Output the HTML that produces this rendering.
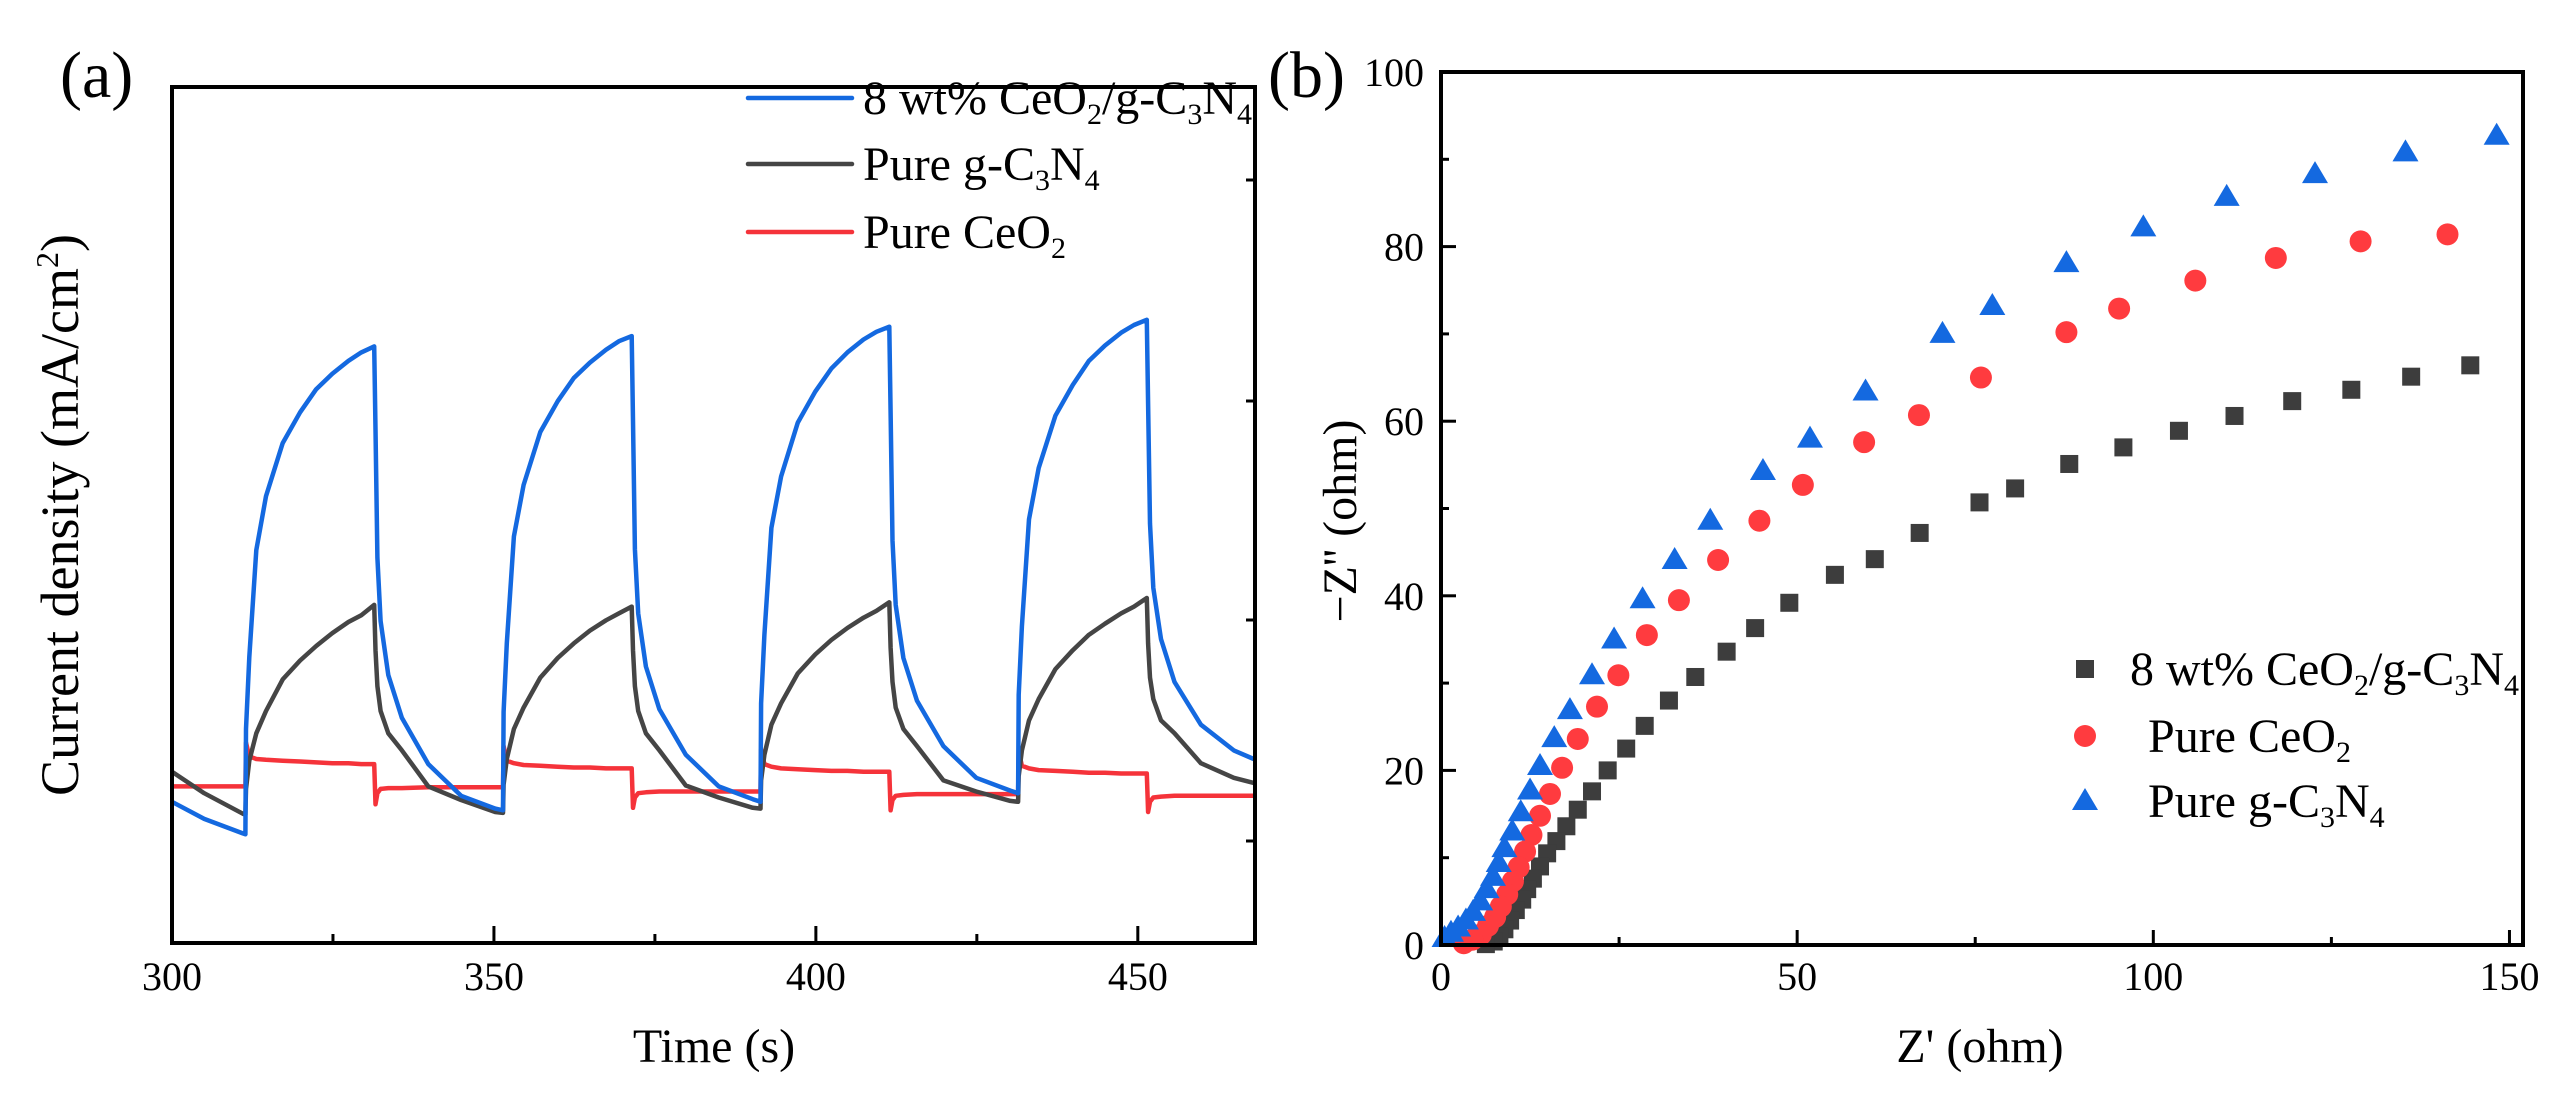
<!DOCTYPE html>
<html><head><meta charset="utf-8"><style>
html,body{margin:0;padding:0;background:#fff;}
svg{display:block;font-family:"Liberation Serif",serif;}
</style></head><body>
<svg id="fig" width="2555" height="1096" viewBox="0 0 2555 1096" xmlns="http://www.w3.org/2000/svg">
<rect width="2555" height="1096" fill="#fff"/>
<g id="pa"></g>
<g id="pb"></g>
</svg>
<script>
// ---------- Panel (a) data ----------
const timeS = [300,305,311,
 311.4,311.5,312,313.1,314.6,317.2,319.9,322.4,324.9,327.4,329.4,331.4, 331.6,331.9,332.4,333.6,335.7,339.8,344.9,350.2,
 351.4,351.5,352,353.1,354.6,357.2,359.9,362.4,364.9,367.4,369.4,371.4, 371.6,371.9,372.4,373.6,375.7,379.8,384.9,390.2,
 391.4,391.5,392,393.1,394.6,397.2,399.9,402.4,404.9,407.4,409.4,411.4, 411.6,411.9,412.4,413.6,415.7,419.8,424.9,430.2,
 431.4,431.5,432,433.1,434.6,437.2,439.9,442.4,444.9,447.4,449.4,451.4, 451.6,451.9,452.4,453.6,455.7,459.8,464.9,468];
const blueCurrent = [16.5,14.5,12.8,
 12.7,25,33.4,45.9,52.2,58.4,62,64.7,66.5,68,69,69.7, 60,45,37.6,31.3,26.3,20.9,17.2,15.7,
 15.5,27,35,47.5,53.5,59.7,63.3,66,67.8,69.3,70.3,70.9, 61,46,38.5,32.3,27.3,22,18.3,16.8,
 16.5,28,36,48.5,54.5,60.8,64.4,67.1,69,70.5,71.4,72, 62,47,39.5,33.3,28.3,23,19.3,17.8,
 17.5,29,37,49.5,55.5,61.6,65.2,68,69.8,71.3,72.2,72.8, 63,49,41.5,35.5,30.5,25.5,22.5,21.5];
const blackCurrent = [20,17.5,15.1,
 15,18,21.3,24.5,27.1,30.8,33,34.7,36.2,37.5,38.3,39.5, 34.2,30,27.1,24.5,22.5,18.3,16.7,15.3,
 15.2,18.5,21.5,25,27.5,31,33.3,35,36.5,37.7,38.5,39.3, 34.2,30,27.1,24.5,22.5,18.4,17,15.8,
 15.7,19,22,25.5,28,31.5,33.7,35.4,36.8,38,38.8,39.8, 34.5,30.5,27.5,25,23,19,17.7,16.6,
 16.5,19.5,22.5,26,28.5,32,34.2,36,37.3,38.5,39.3,40.3, 35,31,28.5,26,24.5,21,19.3,18.7];
const redCurrent = [18.3,18.3,18.3,
 18.3,23.4,21.8,21.5,21.4,21.3,21.2,21.1,21,21,20.9,20.9, 16.2,17.5,18,18.1,18.1,18.2,18.2,18.2,
 18.2,23,21.3,21,20.8,20.7,20.6,20.5,20.5,20.4,20.4,20.4, 15.8,17,17.5,17.6,17.7,17.7,17.7,17.7,
 17.7,22.6,20.9,20.6,20.4,20.3,20.2,20.1,20.1,20,20,20, 15.5,16.7,17.2,17.3,17.4,17.4,17.4,17.4,
 17.4,22.4,20.7,20.4,20.2,20.1,20,19.9,19.9,19.8,19.8,19.8, 15.3,16.5,17,17.1,17.2,17.2,17.2,17.2];
const xTicksA = [300,350,400,450];
const xMinorA = [325,375,425];

// ---------- Panel (b) data ----------
const zReC = [144.5,136.2,127.8,119.5,111.4,103.6,95.8,88.2,80.6,75.6,67.2,60.9,55.3,48.9,44.1,40.1,35.7,32,28.6,26,23.4,21.2,19.2,17.6,16.2,14.9,13.9,12.9,12.1,11.4,10.5,9.7,8.9,8.2,7.4,6.3];
const zImC = [66.4,65.1,63.6,62.3,60.6,58.9,57,55.1,52.3,50.7,47.2,44.2,42.4,39.2,36.3,33.6,30.7,28,25.1,22.5,20,17.6,15.5,13.6,11.9,10.5,9,7.6,6.4,5.2,4,2.8,1.8,1,0.4,0.1];
const zReCeO2 = [141.3,129.1,117.2,105.9,95.2,87.8,75.8,67.1,59.4,50.8,44.7,38.9,33.4,28.9,24.9,21.9,19.2,17,15.3,13.9,12.7,11.8,10.9,10.1,9.3,8.4,7.6,6.6,5.6,4.4,3.2];
const zImCeO2 = [81.4,80.6,78.7,76.1,72.9,70.2,65,60.7,57.6,52.7,48.6,44.1,39.5,35.5,30.9,27.3,23.6,20.3,17.3,14.8,12.6,10.7,8.9,7.3,5.8,4.4,3.2,2.2,1.2,0.6,0.2];
const zReCN = [148.2,135.4,122.7,110.3,98.6,87.8,77.4,70.4,59.6,51.8,45.2,37.8,32.8,28.3,24.3,21.2,18.1,15.9,13.9,12.5,11.2,10,8.9,8.1,7.3,6.4,5.5,4.5,3.5,2.4,1.4,0.5];
const zImCN = [92.7,90.8,88.3,85.7,82.2,78.1,73.2,70,63.4,58,54.3,48.6,44.1,39.6,35,30.9,26.9,23.7,20.5,17.7,15.2,13,11.1,9.4,7.8,6.4,5,3.8,2.8,2,1.4,0.8];
const xTicksB = [0,50,100,150];
const xMinorB = [25,75,125];
const yTicksB = [0,20,40,60,80,100];
const yMinorB = [10,30,50,70,90];

const NS = "http://www.w3.org/2000/svg";
function mk(parent, tag, attrs){ const e=document.createElementNS(NS,tag); for(const k in attrs) e.setAttribute(k,attrs[k]); parent.appendChild(e); return e; }

// ---------- Panel (a) ----------
const pa = document.getElementById('pa');
const A = {l:172, r:1255, t:87, b:943, x0:300, x1:468.2};
const xa = v => A.l + (v-A.x0)/(A.x1-A.x0)*(A.r-A.l);
const ya = v => A.b - v/100*(A.b-A.t);

function drawLine(vals, color, name){
  let d = vals.map((v,i)=>(i?'L':'M')+xa(timeS[i]).toFixed(1)+' '+ya(v).toFixed(1)).join(' ');
  const p = mk(pa,'path',{d:d,fill:'none',stroke:color,'stroke-width':4.5,'stroke-linejoin':'round'});
  
  
}
drawLine(redCurrent,'#f5333a','line-pure-ceo2');
drawLine(blackCurrent,'#454545','line-pure-gc3n4');
drawLine(blueCurrent,'#1469e0','line-8wt-ceo2-gc3n4');

const frameA = mk(pa,'rect',{x:A.l,y:A.t,width:A.r-A.l,height:A.b-A.t,fill:'none',stroke:'#000','stroke-width':4});


xTicksA.forEach(v=>{
  mk(pa,'line',{x1:xa(v),x2:xa(v),y1:A.b,y2:A.b-17,stroke:'#000','stroke-width':3});
  const t = mk(pa,'text',{x:xa(v),y:990,'font-size':40,'text-anchor':'middle'}); t.textContent=v;
  
  
});
xMinorA.forEach(v=>mk(pa,'line',{x1:xa(v),x2:xa(v),y1:A.b,y2:A.b-9,stroke:'#000','stroke-width':3}));
[180,401,620,841].forEach(y=>mk(pa,'line',{x1:A.r,x2:A.r-9,y1:y,y2:y,stroke:'#000','stroke-width':3}));

function addText(parent,html,attrs,name){
  const t = mk(parent,'text',attrs); t.innerHTML = html;
  
  
  return t;
}
addText(pa,'(a)',{x:60,y:97,'font-size':66},'panel-label-a');
addText(pa,'Time (s)',{x:714,y:1062,'font-size':48,'text-anchor':'middle'},'x-axis-title-a');
addText(pa,'Current density (mA/cm<tspan font-size="32" dy="-20">2</tspan><tspan dy="20">)</tspan>',{x:0,y:0,'font-size':54,'text-anchor':'middle',transform:'translate(78,515) rotate(-90)'},'y-axis-title-a');

const legA = [['#1469e0','8 wt% CeO<tspan font-size="30" dy="10">2</tspan><tspan dy="-10">/g-C</tspan><tspan font-size="30" dy="10">3</tspan><tspan dy="-10">N</tspan><tspan font-size="30" dy="10">4</tspan>',98,'legend-entry-composite'],
 ['#454545','Pure g-C<tspan font-size="30" dy="10">3</tspan><tspan dy="-10">N</tspan><tspan font-size="30" dy="10">4</tspan>',164,'legend-entry-gc3n4'],
 ['#f5333a','Pure CeO<tspan font-size="30" dy="10">2</tspan>',232,'legend-entry-ceo2']];
legA.forEach(e=>{
  const g = mk(pa,'g',{});
  
  
  mk(g,'line',{x1:748,x2:852,y1:e[2],y2:e[2],stroke:e[0],'stroke-width':4.5,'stroke-linecap':'round'});
  const t = mk(g,'text',{x:863,y:e[2]+16,'font-size':48}); t.innerHTML=e[1];
});

// ---------- Panel (b) ----------
const pb = document.getElementById('pb');
const B = {l:1441, r:2523, t:72, b:945, x0:0, x1:151.9, y0:0, y1:100};
const xb = v => B.l + (v-B.x0)/(B.x1-B.x0)*(B.r-B.l);
const yb = v => B.b - (v-B.y0)/(B.y1-B.y0)*(B.b-B.t);

function marker(g,type,cx,cy,color){
  if(type==='sq') mk(g,'rect',{x:cx-9,y:cy-9,width:18,height:18,fill:color});
  else if(type==='ci') mk(g,'circle',{cx:cx,cy:cy,r:11,fill:color});
  else mk(g,'polygon',{points:`${cx},${cy-13} ${cx-13},${cy+9} ${cx+13},${cy+9}`,fill:color});
}
function drawScatter(xs,ys,type,color,name){
  const g = mk(pb,'g',{});
  
  
  xs.forEach((x,i)=>marker(g,type,xb(x),yb(ys[i]),color));
}
drawScatter(zReC,zImC,'sq','#3d3d3d','series-8wt-ceo2-gc3n4');
drawScatter(zReCeO2,zImCeO2,'ci','#ff3b3f','series-pure-ceo2');
drawScatter(zReCN,zImCN,'tr','#1469e0','series-pure-gc3n4');

const frameB = mk(pb,'rect',{x:B.l,y:B.t,width:B.r-B.l,height:B.b-B.t,fill:'none',stroke:'#000','stroke-width':4});


xTicksB.forEach(v=>{
  mk(pb,'line',{x1:xb(v),x2:xb(v),y1:B.b,y2:B.b-15,stroke:'#000','stroke-width':3});
  const t = mk(pb,'text',{x:xb(v),y:990,'font-size':40,'text-anchor':'middle'}); t.textContent=v;
  
  
});
xMinorB.forEach(v=>mk(pb,'line',{x1:xb(v),x2:xb(v),y1:B.b,y2:B.b-8,stroke:'#000','stroke-width':3}));
yTicksB.forEach(v=>{
  mk(pb,'line',{x1:B.l,x2:B.l+15,y1:yb(v),y2:yb(v),stroke:'#000','stroke-width':3});
  const t = mk(pb,'text',{x:1424,y:yb(v)+14,'font-size':40,'text-anchor':'end'}); t.textContent=v;
  
  
});
yMinorB.forEach(v=>mk(pb,'line',{x1:B.l,x2:B.l+8,y1:yb(v),y2:yb(v),stroke:'#000','stroke-width':3}));

addText(pb,'(b)',{x:1268,y:97,'font-size':66},'panel-label-b');
addText(pb,"Z' (ohm)",{x:1980,y:1062,'font-size':48,'text-anchor':'middle'},'x-axis-title-b');
addText(pb,"\u2212Z'' (ohm)",{x:0,y:0,'font-size':48,'text-anchor':'middle',transform:'translate(1356,521) rotate(-90)'},'y-axis-title-b');

const legB = [['sq','#3d3d3d','8 wt% CeO<tspan font-size="30" dy="10">2</tspan><tspan dy="-10">/g-C</tspan><tspan font-size="30" dy="10">3</tspan><tspan dy="-10">N</tspan><tspan font-size="30" dy="10">4</tspan>',669,2130,'legend-entry-b-composite'],
 ['ci','#ff3b3f','Pure CeO<tspan font-size="30" dy="10">2</tspan>',736,2148,'legend-entry-b-ceo2'],
 ['tr','#1469e0','Pure g-C<tspan font-size="30" dy="10">3</tspan><tspan dy="-10">N</tspan><tspan font-size="30" dy="10">4</tspan>',801,2148,'legend-entry-b-gc3n4']];
legB.forEach(e=>{
  const g = mk(pb,'g',{});
  
  
  marker(g,e[0],2085,e[3],e[1]);
  const t = mk(g,'text',{x:e[4],y:e[3]+16,'font-size':48}); t.innerHTML=e[2];
});
</script>
</body></html>
